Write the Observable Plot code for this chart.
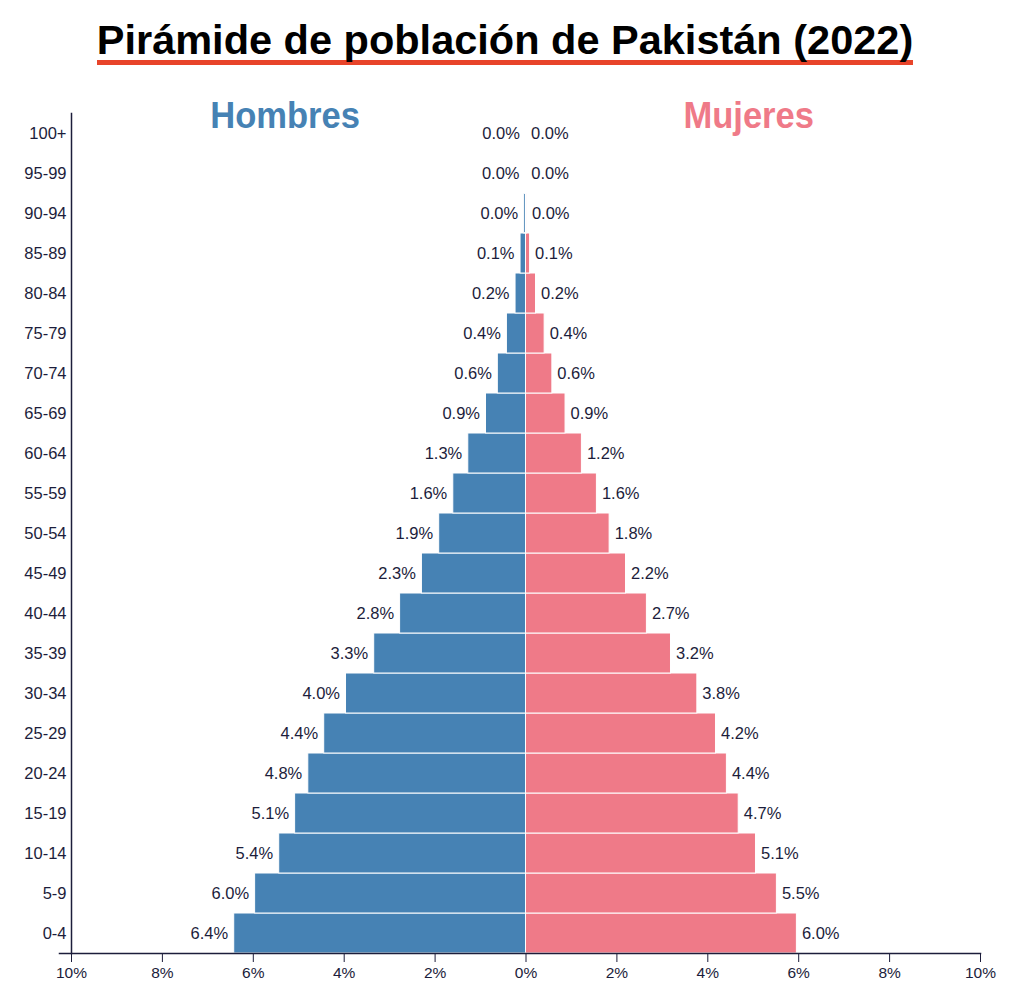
<!DOCTYPE html>
<html>
<head>
<meta charset="utf-8">
<script src="https://cdn.jsdelivr.net/npm/d3@7"></script>
<script src="https://cdn.jsdelivr.net/npm/@observablehq/plot@0.6"></script>
<style>
  body { margin: 0; background: #fff; width: 1010px; height: 999px; overflow: hidden; }
  #title { height: 85px; box-sizing: border-box; padding-top: 19.6px; text-align: center; white-space: nowrap; }
  #title span {
    display: inline-block;
    font-family: "Liberation Sans", Arial, sans-serif;
    font-weight: bold; font-size: 41.5px; line-height: 40px; color: #000;
    border-bottom: 5px solid #e8442a;
  }
  #chart svg { display: block; }
</style>
</head>
<body>
<div id="title"><span>Pirámide de población de Pakistán (2022)</span></div>
<div id="chart"></div>
<script>
// Age groups, bottom to top
const ageGroups = ["0-4","5-9","10-14","15-19","20-24","25-29","30-34","35-39","40-44","45-49","50-54","55-59","60-64","65-69","70-74","75-79","80-84","85-89","90-94","95-99","100+"];
// Percent of total population
const maleValues   = [6.42, 5.96, 5.43, 5.08, 4.79, 4.44, 3.96, 3.34, 2.77, 2.29, 1.91, 1.60, 1.27, 0.88, 0.62, 0.42, 0.23, 0.12, 0.04, 0.01, 0.002];
const femaleValues = [5.96, 5.52, 5.06, 4.68, 4.42, 4.18, 3.77, 3.19, 2.66, 2.20, 1.84, 1.56, 1.23, 0.87, 0.58, 0.41, 0.22, 0.09, 0.02, 0.005, 0.001];
const sexLabels = ["Hombres", "Mujeres"];
const xTicks = [-10, -8, -6, -4, -2, 0, 2, 4, 6, 8, 10];

const maleColor = "#4682b4";
const femaleColor = "#ef7a88";
const textColor = "#1c1d3b";

const rows = [];
ageGroups.forEach((a, i) => {
  rows.push({age: a, sex: "M", value: maleValues[i], x: -maleValues[i]});
  rows.push({age: a, sex: "F", value: femaleValues[i], x: femaleValues[i]});
});
const males = rows.filter(d => d.sex === "M");
const females = rows.filter(d => d.sex === "F");
const fmt = d => d.value.toFixed(1) + "%";

const headerStyle = {frameAnchor: "top", lineAnchor: "bottom", dy: 14, fontSize: 36, fontWeight: "bold", fontFamily: "'Liberation Sans', Arial, sans-serif", className: "sexhead"};

const chart = Plot.plot({
  width: 1010,
  height: 914,
  marginTop: 28,
  marginBottom: 46,
  marginLeft: 71,
  marginRight: 30,
  style: {fontFamily: "'Liberation Sans', Arial, sans-serif", color: textColor, background: "#fff"},
  x: {domain: [-10, 10]},
  y: {domain: ageGroups.slice().reverse(), padding: 0},
  marks: [
    Plot.barX(rows, {x: "x", y: "age", fill: d => d.sex === "M" ? maleColor : femaleColor, stroke: "#fff", strokeWidth: 1}),
    Plot.text(males, {x: "x", y: "age", text: fmt, textAnchor: "end", dx: -6, fontSize: 16.5, fill: textColor}),
    Plot.text(females, {x: "x", y: "age", text: fmt, textAnchor: "start", dx: 5, fontSize: 16.5, fill: textColor}),
    Plot.text([{label: sexLabels[0], x: -5.3}], {x: "x", text: "label", fill: maleColor, ...headerStyle}),
    Plot.text([{label: sexLabels[1], x: 4.9}], {x: "x", text: "label", fill: femaleColor, ...headerStyle}),
    Plot.axisX({ticks: xTicks, tickFormat: d => Math.abs(d) + "%", tickSize: 9, tickPadding: 4, fontSize: 15.5, label: null, stroke: textColor}),
    Plot.axisY({tickSize: 0, tickPadding: 5, fontSize: 16.5, label: null}),
    Plot.frame({anchor: "bottom", insetLeft: -12, stroke: textColor, strokeWidth: 1.5}),
    Plot.frame({anchor: "left", stroke: textColor, strokeWidth: 1.5})
  ]
});
// slightly condense the header labels horizontally
d3.select(chart).selectAll("g.sexhead text").each(function() {
  const t = this.getAttribute("transform") || "";
  this.setAttribute("transform", t + " scale(0.96,1)");
});
document.getElementById("chart").appendChild(chart);
</script>
</body>
</html>
